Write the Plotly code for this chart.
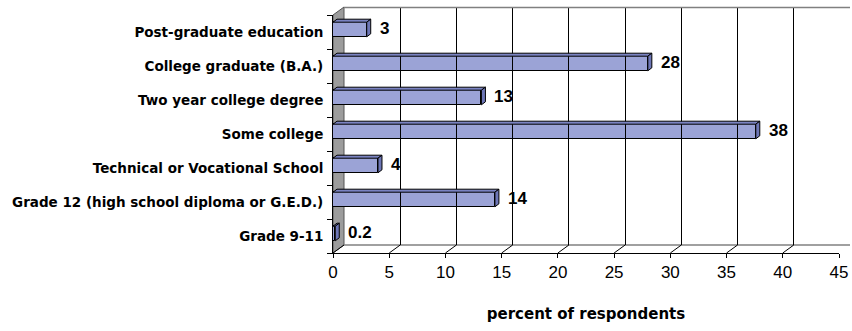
import plotly.graph_objects as go

categories = [
    "Grade 9-11",
    "Grade 12 (high school diploma or G.E.D.)",
    "Technical or Vocational School",
    "Some college",
    "Two year college degree",
    "College graduate (B.A.)",
    "Post-graduate education",
]
values = [0.2, 14.4, 4, 37.6, 13.2, 28, 3]
value_labels = ["0.2", "14", "4", "38", "13", "28", "3"]
x_ticks = [0, 5, 10, 15, 20, 25, 30, 35, 40, 45]
x_title = "percent of respondents"

W, H = 852, 331
L, R, T, B = 333, 2, 7, 78
pw = W - L - R  # 517
ph = H - T - B  # 246
DX, DY = 11, 8  # 3D depth offset in px
front_w = pw - DX
px_per_unit = front_w / 45.0

FONT = "Liberation Sans, Arial, sans-serif"
FONT_WIDE = "DejaVu Sans, Liberation Sans, sans-serif"
BAR_FILL = "#9BA3D6"
BAR_TOP = "#7A83C2"
BAR_SIDE = "#6D76B6"
WALL = "#9C9C9C"

bar_w = 0.43
bar_shift_px = 2.5
cat_px = (ph - DY) / len(categories)
offset = -bar_w / 2 + bar_shift_px / cat_px
half_px = bar_w * cat_px / 2
y_bot = bar_shift_px - half_px
y_top = bar_shift_px + half_px
dx_b, dy_b = 4, 3

fig = go.Figure()
fig.add_trace(go.Bar(
    x=values, y=categories, orientation="h",
    width=bar_w, offset=offset,
    marker=dict(color=BAR_FILL, line=dict(color="#000000", width=1)),
    hoverinfo="x+y", xaxis="x", yaxis="y",
))
fig.add_trace(go.Scatter(x=[0, 45], y=[0, 1], mode="markers",
                         marker=dict(opacity=0), xaxis="x2", yaxis="y2",
                         hoverinfo="skip", showlegend=False))

shapes = []
# left gray wall
shapes.append(dict(type="path", xref="paper", yref="paper",
                   path=f"M 0,{(ph - DY) / ph} L {DX / pw},1 L {DX / pw},{DY / ph} L 0,0 Z",
                   fillcolor=WALL, line=dict(color="#555555", width=1), layer="below"))
# back wall top line
shapes.append(dict(type="line", xref="paper", yref="paper", x0=DX / pw, x1=1, y0=0.998, y1=0.998,
                   line=dict(color="#808080", width=1.5), layer="above"))
# floor back line
shapes.append(dict(type="line", xref="paper", yref="paper", x0=DX / pw, x1=1, y0=DY / ph, y1=DY / ph,
                   line=dict(color="#808080", width=1.5), layer="below"))
# diagonal floor ticks
for t in x_ticks:
    shapes.append(dict(type="path", xref="x", yref="paper", xsizemode="pixel", xanchor=t,
                       ysizemode="pixel", yanchor=0,
                       path=f"M 0,0 L {DX},{DY}", line=dict(color="#000000", width=1), layer="below"))
# bar top and side faces
for c, v in zip(categories, values):
    d = dx_b / px_per_unit
    shapes.append(dict(type="path", xref="x", yref="y", ysizemode="pixel", yanchor=c,
                       path=f"M 0,{y_top} L {v},{y_top} L {v + d},{y_top + dy_b} L {d},{y_top + dy_b} Z",
                       fillcolor=BAR_TOP, line=dict(color="#000000", width=1)))
    shapes.append(dict(type="path", xref="x", yref="y", xsizemode="pixel", xanchor=v,
                       ysizemode="pixel", yanchor=c,
                       path=f"M 0,{y_bot} L 0,{y_top} L {dx_b},{y_top + dy_b} L {dx_b},{y_bot + dy_b} Z",
                       fillcolor=BAR_SIDE, line=dict(color="#000000", width=1)))

annotations = []
for c, v, lab in zip(categories, values, value_labels):
    annotations.append(dict(x=v, y=c, xref="x", yref="y", text=f"<b>{lab}</b>",
                            showarrow=False, xanchor="left", yanchor="middle",
                            xshift=11, yshift=bar_shift_px + 1,
                            font=dict(family=FONT, size=17, color="#000000")))

fig.update_layout(
    width=W, height=H,
    margin=dict(l=L, r=R, t=T, b=B, pad=0),
    paper_bgcolor="white", plot_bgcolor="rgba(0,0,0,0)",
    showlegend=False, bargap=0,
    shapes=shapes, annotations=annotations,
    font=dict(family=FONT, color="#000000"),
    xaxis=dict(domain=[0, front_w / pw], range=[0, 45], tickvals=x_ticks,
               showgrid=False, zeroline=False, showline=True, linecolor="#000000",
               linewidth=1, ticks="outside", ticklen=4, tickcolor="#000000",
               tickfont=dict(family=FONT, size=17, color="#000000"),
               anchor="y", automargin=False,
               title=dict(text=f"<b>{x_title}</b>", font=dict(family=FONT_WIDE, size=15, color="#000000"),
                          standoff=27)),
    yaxis=dict(domain=[0, (ph - DY) / ph], type="category", categoryorder="array",
               categoryarray=categories, range=[-0.5, len(categories) - 0.5],
               showgrid=False, zeroline=False, showline=True, linecolor="#000000",
               linewidth=1, ticks="outside", ticklen=5, tickcolor="#000000",
               tickson="boundaries", anchor="x", automargin=False,
               tickvals=categories, ticktext=[f"<b>{c}</b>" for c in categories],
               tickfont=dict(family=FONT_WIDE, size=13.5, color="#000000"),
               ticklabelstandoff=6),
    xaxis2=dict(domain=[DX / pw, 1], range=[0, 45], tickvals=x_ticks, showgrid=True,
                gridcolor="#000000", gridwidth=1, showticklabels=False, ticks="",
                zeroline=False, showline=False, anchor="y2", fixedrange=True, automargin=False),
    yaxis2=dict(domain=[DY / ph, 1], range=[0, 1], showgrid=False, showticklabels=False,
                ticks="", zeroline=False, showline=False, anchor="x2", fixedrange=True, automargin=False),
)

fig.write_html("out.html", config={"displayModeBar": False},
               post_script="document.body.style.margin='0px';document.body.style.overflow='hidden';")
